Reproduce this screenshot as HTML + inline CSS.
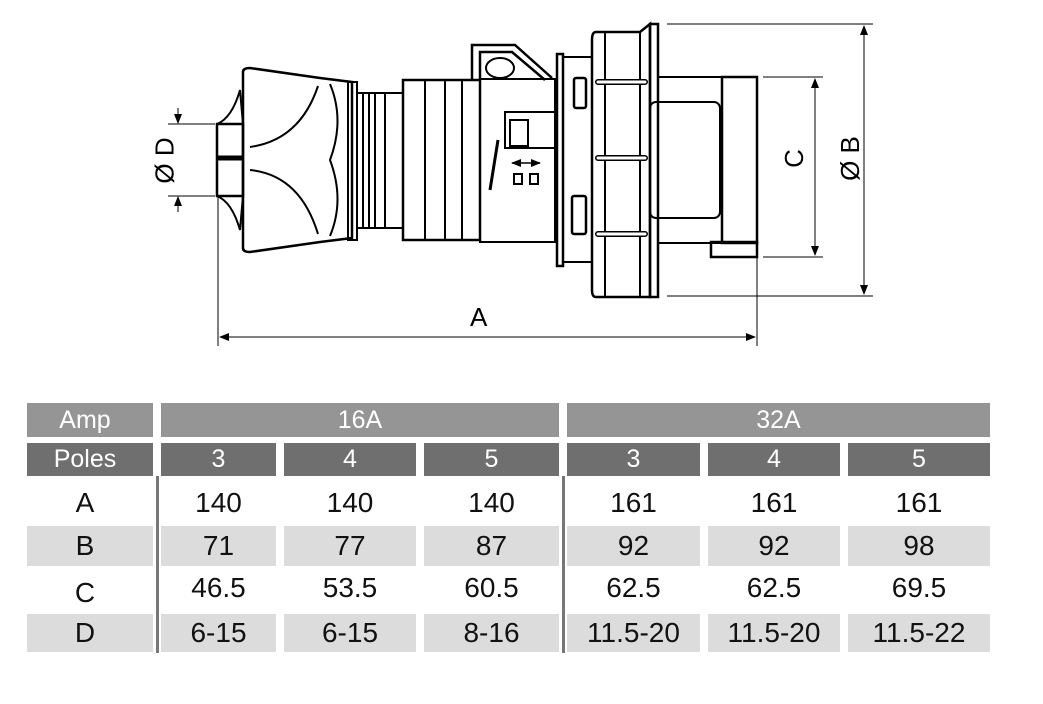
<!DOCTYPE html>
<html><head><meta charset="utf-8"><style>
html,body{margin:0;padding:0;background:#fff;}
body{width:1043px;height:704px;position:relative;overflow:hidden;font-family:"Liberation Sans",sans-serif;}
.c{position:absolute;display:flex;align-items:center;justify-content:center;box-sizing:border-box;}
.h1{background:#959595;color:#fff;font-size:25px;}
.h2{background:#6f6f6f;color:#fff;font-size:25px;}
.v{color:#111;font-size:28px;}
.g{background:#dcdcdc;}
.l{padding-right:10px;}
</style></head><body>
<svg width="1043" height="704" style="position:absolute;left:0;top:0" fill="none" stroke="#000" stroke-width="2">
<defs><marker id="ar" markerWidth="10" markerHeight="8" refX="9" refY="4" orient="auto-start-reverse" markerUnits="userSpaceOnUse"><path d="M0,0 L10,4 L0,8 Z" fill="#000" stroke="none"/></marker></defs>
<g stroke-width="1">
<line x1="218" y1="196" x2="218" y2="346"/>
<line x1="757" y1="257" x2="757" y2="346"/>
<line x1="220" y1="337" x2="755" y2="337" marker-start="url(#ar)" marker-end="url(#ar)"/>
<line x1="168" y1="124" x2="215" y2="124"/>
<line x1="168" y1="196" x2="215" y2="196"/>
<line x1="178" y1="108" x2="178" y2="123" marker-end="url(#ar)"/>
<line x1="178" y1="212" x2="178" y2="197" marker-end="url(#ar)"/>
<line x1="763" y1="77" x2="823" y2="77"/>
<line x1="763" y1="257" x2="823" y2="257"/>
<line x1="815" y1="79" x2="815" y2="255" marker-start="url(#ar)" marker-end="url(#ar)"/>
<line x1="667" y1="24" x2="873" y2="24"/>
<line x1="667" y1="296" x2="873" y2="296"/>
<line x1="864" y1="26" x2="864" y2="294" marker-start="url(#ar)" marker-end="url(#ar)"/>
</g>
<path d="M217,124 Q232,118 240,90 L243,124 M217,196 Q232,202 240,230 L243,196"/>
<rect x="217" y="124" width="26" height="72" stroke-width="2.5"/>
<line x1="217" y1="158" x2="243" y2="158" stroke-width="5"/>
<path d="M243,72 Q243,68 250,68 L320,78 L352,82 L352,238 L320,242 L250,252 Q243,252 243,248 Z" stroke-width="2.5"/>
<path d="M250,147 Q300,140 318,86 M250,170 Q300,175 318,234 M330,84 Q345,120 330,160 Q345,200 330,236"/>
<rect x="348" y="82" width="9" height="158"/>
<path d="M357,93 L385,93 L385,228 L357,228 Z M363,93 L363,228 M369,93 L369,228 M375,93 L375,228"/>
<rect x="385" y="93" width="18" height="135"/>
<rect x="403" y="80" width="77" height="160" stroke-width="2.5"/>
<path d="M425,80 L425,240 M445,80 L445,240 M462,80 L462,240"/>
<rect x="480" y="79" width="75" height="163" stroke-width="2"/>
<path d="M472,80 L472,45 L515,45 L552,78 M480,80 L480,52 L512,52 L545,80" stroke-width="2.5"/>
<ellipse cx="500" cy="68" rx="14" ry="10"/>
<rect x="505" y="112" width="50" height="36"/>
<rect x="510" y="120" width="18" height="26"/>
<path d="M490,190 L498,140" stroke-width="3"/>
<path d="M512,163 L540,163" marker-start="url(#ar)" marker-end="url(#ar)" stroke-width="1.5"/>
<rect x="514" y="174" width="8" height="10"/><rect x="530" y="174" width="8" height="10"/>
<rect x="557" y="54" width="6" height="212" stroke-width="2.5"/>
<rect x="563" y="57" width="29" height="205"/>
<rect x="574" y="78" width="12" height="30" rx="2" stroke-width="2.5"/>
<rect x="572" y="196" width="14" height="38" rx="2" stroke-width="2.5"/>
<path d="M596,32 L640,32 L650,24 L650,297 L640,297 L596,297 Q592,297 592,290 L592,40 Q592,32 596,32 Z" stroke-width="2.5"/>
<path d="M605,32 L605,297 M640,32 L640,297"/>
<path d="M598,82 L645,82 M598,158 L645,158 M598,234 L645,234" stroke-width="6" stroke-linecap="round"/>
<path d="M598,82 L645,82 M598,158 L645,158 M598,234 L645,234" stroke="#fff" stroke-width="3" stroke-linecap="round"/>
<rect x="650" y="24" width="8" height="273" stroke-width="2.5"/>
<rect x="658" y="77" width="64" height="166"/>
<rect x="650" y="102" width="70" height="116" rx="6"/>
<rect x="722" y="77" width="35" height="166" stroke-width="2.5"/>
<rect x="711" y="242" width="46" height="15" stroke-width="2.5"/>
</svg>
<div style="position:absolute;left:470px;top:302px;font-size:26px;">A</div>
<div style="position:absolute;left:142px;top:145px;font-size:26px;transform:rotate(-90deg);">Ø D</div>
<div style="position:absolute;left:785px;top:143px;font-size:26px;transform:rotate(-90deg);">C</div>
<div style="position:absolute;left:828px;top:143px;font-size:26px;transform:rotate(-90deg);">Ø B</div>

<div class="c h1 l" style="left:27px;top:403px;width:126px;height:34px;">Amp</div>
<div class="c h1" style="left:161px;top:403px;width:398px;height:34px;">16A</div>
<div class="c h1" style="left:567px;top:403px;width:423px;height:34px;">32A</div>
<div class="c h2 l" style="left:27px;top:443px;width:126px;height:33px;">Poles</div>
<div class="c h2" style="left:161px;top:443px;width:115px;height:33px;">3</div>
<div class="c h2" style="left:284px;top:443px;width:132px;height:33px;">4</div>
<div class="c h2" style="left:424px;top:443px;width:135px;height:33px;">5</div>
<div class="c h2" style="left:567px;top:443px;width:133px;height:33px;">3</div>
<div class="c h2" style="left:708px;top:443px;width:132px;height:33px;">4</div>
<div class="c h2" style="left:848px;top:443px;width:142px;height:33px;">5</div>
<div style="position:absolute;left:156px;top:476px;width:3px;height:177px;background:#777"></div>
<div style="position:absolute;left:562px;top:476px;width:3px;height:177px;background:#777"></div>

<div class="c v l" style="left:27px;top:483px;width:126px;height:40px;">A</div>
<div class="c v" style="left:161px;top:483px;width:115px;height:40px;">140</div>
<div class="c v" style="left:284px;top:483px;width:132px;height:40px;">140</div>
<div class="c v" style="left:424px;top:483px;width:135px;height:40px;">140</div>
<div class="c v" style="left:567px;top:483px;width:133px;height:40px;">161</div>
<div class="c v" style="left:708px;top:483px;width:132px;height:40px;">161</div>
<div class="c v" style="left:848px;top:483px;width:142px;height:40px;">161</div>

<div class="c v g l" style="left:27px;top:526px;width:126px;height:40px;">B</div>
<div class="c v g" style="left:161px;top:526px;width:115px;height:40px;">71</div>
<div class="c v g" style="left:284px;top:526px;width:132px;height:40px;">77</div>
<div class="c v g" style="left:424px;top:526px;width:135px;height:40px;">87</div>
<div class="c v g" style="left:567px;top:526px;width:133px;height:40px;">92</div>
<div class="c v g" style="left:708px;top:526px;width:132px;height:40px;">92</div>
<div class="c v g" style="left:848px;top:526px;width:142px;height:40px;">98</div>

<div class="c v l" style="left:27px;top:572px;width:126px;height:42px;">C</div>
<div class="c v" style="left:161px;top:568px;width:115px;height:40px;">46.5</div>
<div class="c v" style="left:284px;top:568px;width:132px;height:40px;">53.5</div>
<div class="c v" style="left:424px;top:568px;width:135px;height:40px;">60.5</div>
<div class="c v" style="left:567px;top:568px;width:133px;height:40px;">62.5</div>
<div class="c v" style="left:708px;top:568px;width:132px;height:40px;">62.5</div>
<div class="c v" style="left:848px;top:568px;width:142px;height:40px;">69.5</div>

<div class="c v g l" style="left:27px;top:614px;width:126px;height:38px;">D</div>
<div class="c v g" style="left:161px;top:614px;width:115px;height:38px;">6-15</div>
<div class="c v g" style="left:284px;top:614px;width:132px;height:38px;">6-15</div>
<div class="c v g" style="left:424px;top:614px;width:135px;height:38px;">8-16</div>
<div class="c v g" style="left:567px;top:614px;width:133px;height:38px;">11.5-20</div>
<div class="c v g" style="left:708px;top:614px;width:132px;height:38px;">11.5-20</div>
<div class="c v g" style="left:848px;top:614px;width:142px;height:38px;">11.5-22</div>
</body></html>
